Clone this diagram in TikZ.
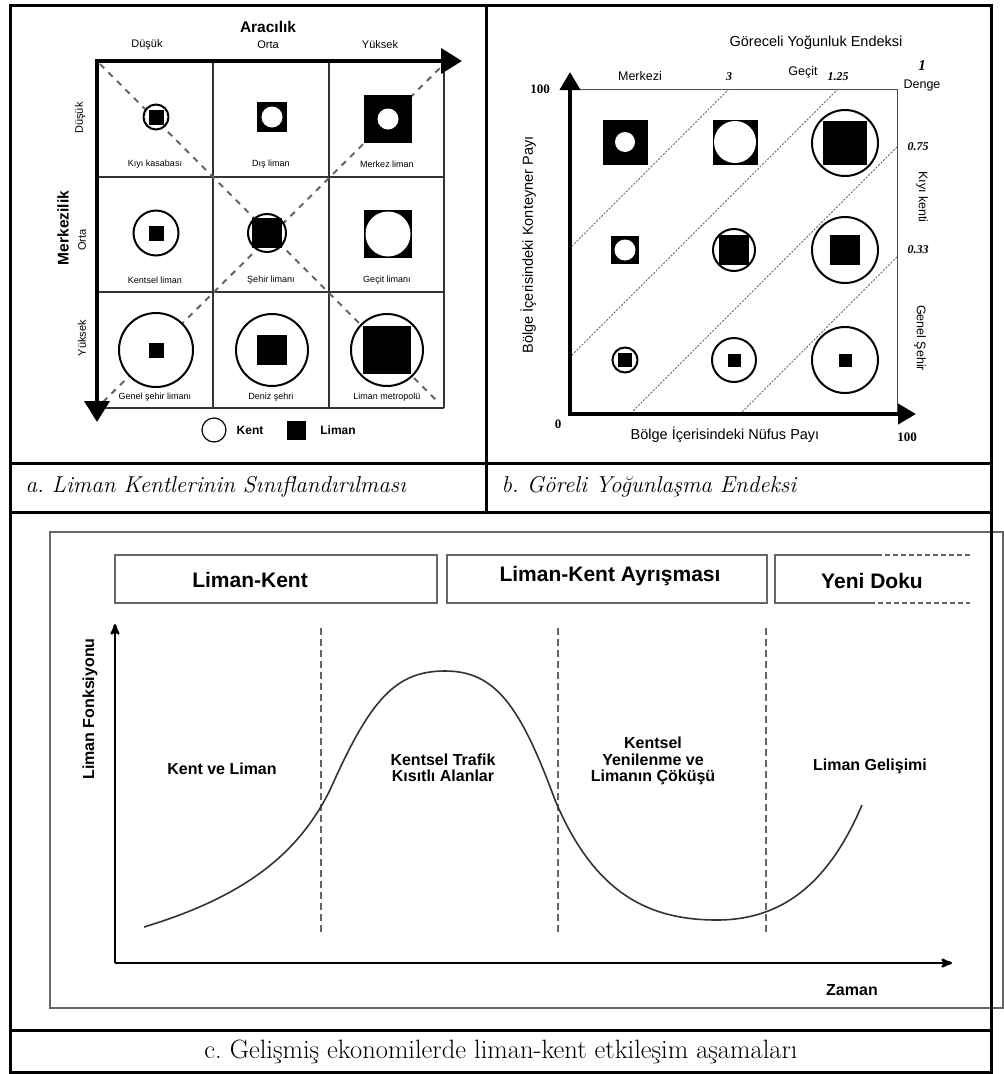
\documentclass[tikz,border=0pt]{standalone}
\usepackage{fontspec}
\setsansfont{Liberation Sans}
\newfontfamily\numfont{Liberation Serif}
\usetikzlibrary{arrows,arrows.meta}
\frenchspacing

\tikzset{
  kent/.style={circle,draw,line width=2,fill=white,inner sep=0pt,minimum size=#1},
  liman/.style={rectangle,fill=black,inner sep=0pt,minimum size=#1},
  delik/.style={circle,fill=white,inner sep=0pt,minimum size=#1},
  hucre/.style={font=\sffamily\fontsize{9}{10}\selectfont},
  etiket/.style={font=\sffamily\fontsize{11}{12}\selectfont},
  yazi/.style={font=\sffamily\fontsize{12.5}{14}\selectfont},
  eksen/.style={font=\sffamily\fontsize{14.5}{16}\selectfont},
  baslik/.style={font=\sffamily\bfseries\fontsize{15.5}{17}\selectfont},
  lejant/.style={font=\sffamily\bfseries\fontsize{12}{13}\selectfont},
  sayi/.style={font=\numfont\bfseries\fontsize{13}{14}\selectfont},
  oran/.style={font=\numfont\bfseries\itshape\fontsize{12}{13}\selectfont},
  evre/.style={font=\sffamily\bfseries\fontsize{16}{16.5}\selectfont,align=center},
  donem/.style={font=\sffamily\bfseries\fontsize{21}{24}\selectfont},
  kutu/.style={draw=black!60,line width=2,inner sep=0pt},
  altyazi/.style={font=\fontsize{23}{26}\selectfont},
  kalin ok/.style={line width=4,-{Triangle[length=21pt,width=25pt]}},
  orta ok/.style={line width=4,-{Triangle[length=18pt,width=20pt]}},
  kesik/.style={draw=black!60,line width=2,dash pattern=on 6pt off 6pt},
  noktali/.style={draw=black!60,line width=1,dash pattern=on 2pt off 1.5pt},
}

\begin{document}
\begin{tikzpicture}[x=1pt,y=-1pt,>=stealth']
\useasboundingbox (0,0) rectangle (1004,1074);

% ---------- a. siniflandirma
\coordinate (a0) at (97,61);
\coordinate (ax) at (462,61);
\coordinate (ay) at (97,422);
\draw[black!80,line width=1.2] (213,61) -- (213,408) (329,61) -- (329,408) (444,61) -- (444,408)
  (97,177) -- (444,177) (97,292) -- (444,292) (97,408) -- (444,408);
\coordinate (d1) at (100,64);
\coordinate (d2) at (438,402);
\coordinate (d3) at (103,402);
\coordinate (d4) at (447,61);
\draw[kesik] (d1) -- (d2);
\draw[kesik] (d3) -- (d4);

\node[kent=25]   (kk)  at (156,117) {};
\node[liman=15]  (kkl) at (156,117) {};
\node[liman=30]  (dl)  at (272,117) {};
\node[delik=21]  (dlk) at (272,117) {};
\node[liman=48]  (ml)  at (388,119) {};
\node[delik=21]  (mlk) at (388,119) {};
\node[kent=45]   (kl)  at (156,233) {};
\node[liman=15]  (kll) at (156,233) {};
\node[kent=38]   (sl)  at (267,233) {};
\node[liman=30]  (sll) at (267,233) {};
\node[liman=48]  (gl)  at (388,234) {};
\node[delik=45]  (glk) at (388,234) {};
\node[kent=74]   (gs)  at (156,350) {};
\node[liman=15]  (gsl) at (156,350) {};
\node[kent=72]   (ds)  at (272,350) {};
\node[liman=30]  (dsl) at (272,350) {};
\node[kent=72]   (lm)  at (387,350) {};
\node[liman=48]  (lml) at (387,350) {};

\node[hucre] (t-kk) at (155,164) {Kıyı kasabası};
\node[hucre] (t-dl) at (271,164) {Dış liman};
\node[hucre] (t-ml) at (387,164) {Merkez liman};
\node[hucre] (t-kl) at (155,280) {Kentsel liman};
\node[hucre] (t-sl) at (271,280) {Şehir limanı};
\node[hucre] (t-gl) at (387,280) {Geçit limanı};
\node[hucre] (t-gs) at (155,397) {Genel şehir limanı};
\node[hucre] (t-ds) at (271,397) {Deniz şehri};
\node[hucre] (t-lm) at (387,397) {Liman metropolü};

\draw[kalin ok] (95,61) -- (ax);
\draw[kalin ok] (a0) -- (ay);

\node[baslik] (aracilik) at (268,27) {Aracılık};
\node[etiket] (x1) at (147,45) {Düşük};
\node[etiket] (x2) at (268,45) {Orta};
\node[etiket] (x3) at (380,45) {Yüksek};
\node[baslik,rotate=90] (merkezilik) at (63,228) {Merkezilik};
\node[etiket,rotate=90] (y1) at (80,118) {Düşük};
\node[etiket,rotate=90] (y2) at (82,240) {Orta};
\node[etiket,rotate=90] (y3) at (82,338) {Yüksek};

\node[kent=24,line width=1.2] (lk) at (214,430) {};
\node[lejant] (lkt) at (250,430) {Kent};
\node[liman=19] (ll) at (296,430) {};
\node[lejant] (llt) at (338,430) {Liman};

% ---------- b. yogunlasma endeksi
\coordinate (b0) at (570,414);
\coordinate (by) at (570,72);
\coordinate (bx) at (916,414);
\draw[black!70,line width=1] (570,89) -- (897,89) -- (897,414);
\coordinate (e1) at (729,89);   \coordinate (f1) at (570,248);
\coordinate (e2) at (838,89);   \coordinate (f2) at (570,357);
\coordinate (e3) at (897,147);  \coordinate (f3) at (630,414);
\coordinate (e4) at (897,257);  \coordinate (f4) at (740,414);
\draw[noktali] (e1) -- (f1);
\draw[noktali] (e2) -- (f2);
\draw[noktali] (e3) -- (f3);
\draw[noktali] (e4) -- (f4);

\node[liman=45]  (b11) at (625,142) {};
\node[delik=20]  (b11k) at (625,142) {};
\node[liman=45]  (b12) at (735,142) {};
\node[delik=42]  (b12k) at (735,142) {};
\node[kent=66]   (b13) at (845,143) {};
\node[liman=44]  (b13l) at (845,143) {};
\node[liman=28]  (b21) at (625,250) {};
\node[delik=21]  (b21k) at (625,250) {};
\node[kent=42]   (b22) at (734,250) {};
\node[liman=30]  (b22l) at (734,250) {};
\node[kent=66]   (b23) at (845,250) {};
\node[liman=30]  (b23l) at (845,250) {};
\node[kent=25]   (b31) at (625,360) {};
\node[liman=14]  (b31l) at (625,360) {};
\node[kent=44]   (b32) at (734,360) {};
\node[liman=13]  (b32l) at (734,360) {};
\node[kent=66]   (b33) at (845,360) {};
\node[liman=13]  (b33l) at (845,360) {};

\draw[orta ok] (b0) -- (by);
\draw[orta ok] (568,414) -- (bx);

\node[eksen] (gye) at (816,43) {Göreceli Yoğunluk Endeksi};
\node[yazi] (merkezi) at (640,76) {Merkezi};
\node[oran] (uc) at (729,77) {3};
\node[yazi] (gecit) at (803,72) {Geçit};
\node[oran] (bir25) at (838,77) {1.25};
\node[oran,font=\numfont\bfseries\itshape\fontsize{15}{16}\selectfont] (bir) at (922,66) {1};
\node[yazi] (denge) at (922,85) {Denge};
\node[oran] (s075) at (918,147) {0.75};
\node[oran] (s033) at (918,250) {0.33};
\node[yazi,rotate=-90] (kiyi) at (922,197) {Kıyı kenti};
\node[yazi,rotate=-90] (genel) at (920,338) {Genel Şehir};
\node[sayi] (yuz1) at (540,89) {100};
\node[sayi] (sifir) at (558,424) {0};
\node[sayi] (yuz2) at (907,437) {100};
\node[eksen] (nufus) at (725,435) {Bölge İçerisindeki Nüfus Payı};
\node[eksen,rotate=90] (konteyner) at (528,245) {Bölge İçerisindeki Konteyner Payı};

% ---------- c. etkilesim asamalari
\draw[black!60,line width=1.5] (50,532) rectangle (1003,1008);
\node[kutu,minimum width=322,minimum height=48] (k1) at (276,579) {};
\node[donem] (k1t) at (250,580) {Liman-Kent};
\node[kutu,minimum width=320,minimum height=48,donem] (k2) at (607,579) {};
\node[donem] (k2t) at (610,576) {Liman-Kent Ayrışması};
\draw[black!60,line width=2] (877,555) -- (775,555) -- (775,603) -- (870,603);
\draw[black!60,line width=2,dash pattern=on 5pt off 3pt] (877,555) -- (970,555) (870,603) -- (970,603);
\node[donem] (k3t) at (872,581) {Yeni Doku};

\coordinate (c0) at (115,963);
\coordinate (cy) at (115,624);
\coordinate (cx) at (952,963);
\draw[->,line width=2.5] (c0) -- (cy);
\draw[->,line width=2.5] (c0) -- (cx);
\foreach \x in {321,558,766}
  \draw[black!60,line width=1.8,dash pattern=on 7pt off 4pt] (\x,628) -- (\x,935);
\draw[black!80,line width=1.6] (144,927) .. controls (250,895) and (300,850) .. (330,790)
  .. controls (370,700) and (395,671) .. (445,671)
  .. controls (495,671) and (520,705) .. (555,800)
  .. controls (595,895) and (650,920) .. (717,920)
  .. controls (785,920) and (830,880) .. (862,805);

\node[evre] (e-kl) at (222,769) {Kent ve Liman};
\node[evre] (e-kt) at (443,768) {Kentsel Trafik\\Kısıtlı Alanlar};
\node[evre] (e-ky) at (653,761) {Kentsel\\Yenilenme ve\\Limanın Çöküşü};
\node[evre] (e-lg) at (870,766) {Liman Gelişimi};
\node[evre] (zaman) at (852,990) {Zaman};
\node[evre,rotate=90] (fonk) at (90,709) {Liman Fonksiyonu};

% ---------- tablo
\draw[line width=3] (10,5) rectangle (991,1072);
\draw[line width=3] (10,463) -- (991,463);
\draw[line width=3] (10,512) -- (991,512);
\draw[line width=3] (10,1030) -- (991,1030);
\draw[line width=3] (486,5) -- (486,512);
\node[altyazi,anchor=west] (cap-a) at (22,487) {\itshape a. Liman Kentlerinin Sınıflandırılması};
\node[altyazi,anchor=west] (cap-b) at (498,487) {\itshape b. Göreli Yoğunlaşma Endeksi};
\node[altyazi,font=\fontsize{26.5}{29}\selectfont] (cap-c) at (501,1052) {c. Gelişmiş ekonomilerde liman-kent etkileşim aşamaları};
\end{tikzpicture}
\end{document}
